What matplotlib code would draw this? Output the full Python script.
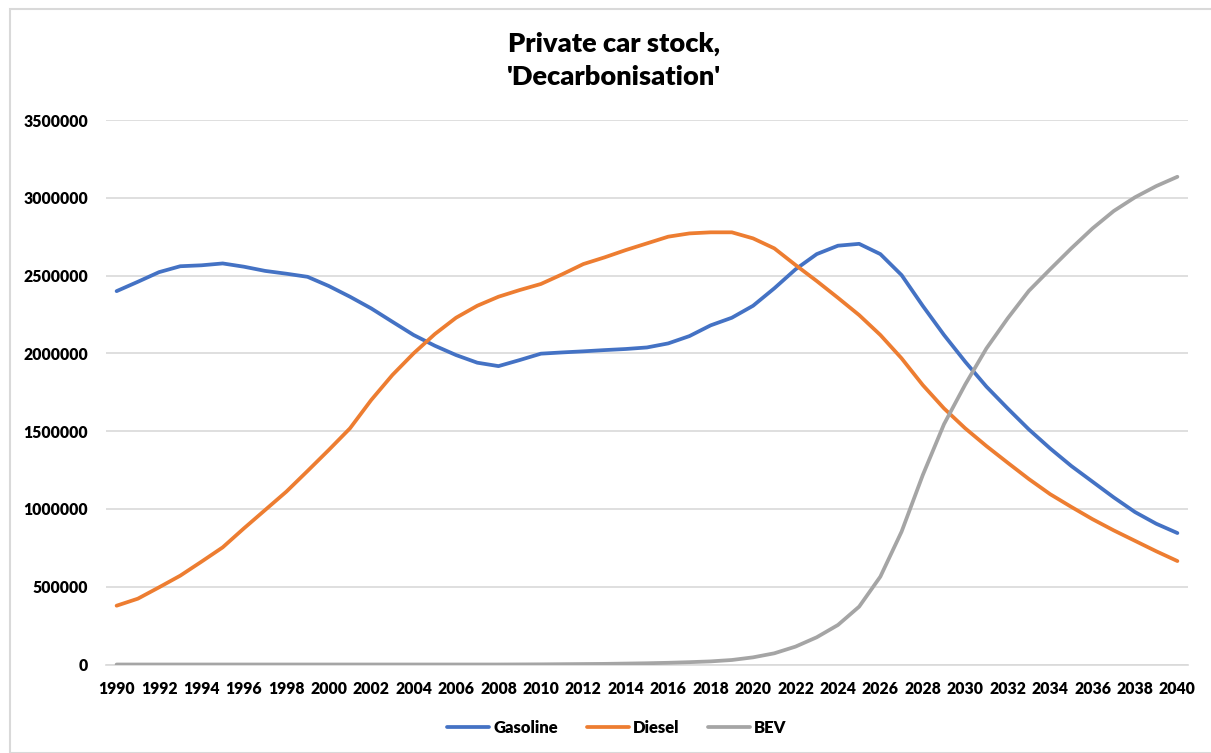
import matplotlib
matplotlib.use("Agg")
import matplotlib.pyplot as plt
from matplotlib.patches import Rectangle
import numpy as np

years = list(range(1990, 2041))

gasoline = [2400000, 2460000, 2522000, 2560000, 2566000, 2578000, 2557000, 2530000, 2512000, 2492000,
            2433000, 2364000, 2289000, 2203000, 2118000, 2049000, 1989000, 1940000, 1918000, 1957000,
            1998000, 2006000, 2013000, 2021000, 2028000, 2038000, 2064000, 2111000, 2180000, 2229000,
            2306000, 2418000, 2540000, 2638000, 2692000, 2704000, 2638000, 2503000, 2305000, 2118000,
            1946000, 1786000, 1646000, 1511000, 1389000, 1276000, 1175000, 1074000, 980000, 905000,
            845000]

diesel = [378000, 423000, 496000, 571000, 661000, 753000, 875000, 993000, 1111000, 1244000,
          1379000, 1518000, 1700000, 1861000, 2000000, 2124000, 2229000, 2306000, 2364000, 2407000,
          2446000, 2508000, 2574000, 2617000, 2664000, 2707000, 2750000, 2771000, 2778000, 2778000,
          2739000, 2675000, 2568000, 2465000, 2357000, 2246000, 2118000, 1968000, 1796000, 1646000,
          1518000, 1404000, 1297000, 1192000, 1095000, 1013000, 934000, 862000, 795000, 728000,
          665000]

bev = [0, 0, 0, 0, 0, 0, 0, 0, 0, 0,
       0, 0, 0, 0, 0, 0, 0, 0, 0, 500,
       1000, 2000, 3000, 4000, 6000, 8000, 11000, 15000, 20000, 29000,
       46000, 72000, 115000, 175000, 254000, 372000, 565000, 854000, 1218000, 1545000,
       1800000, 2032000, 2225000, 2402000, 2540000, 2675000, 2803000, 2915000, 3003000, 3075000,
       3135000]

series_names = ["Gasoline", "Diesel", "BEV"]
colors = ["#4472C4", "#ED7D31", "#A5A5A5"]
y_ticks = [0, 500000, 1000000, 1500000, 2000000, 2500000, 3000000, 3500000]
x_ticks = list(range(1990, 2041, 2))

plt.rcParams['font.family'] = ['Lato', 'DejaVu Sans']

W, H = 1211, 753
fig = plt.figure(figsize=(W / 100, H / 100), dpi=100)
fig.patch.set_facecolor("white")

# outer chart border
fig.add_artist(Rectangle((10 / W, 0), 1.2, 1 - 9 / H, transform=fig.transFigure,
                         fill=False, edgecolor="#D9D9D9", linewidth=1.5))

left, right = 106 / W, 1188 / W
bottom, top = 1 - 664.5 / H, 1 - 120 / H
ax = fig.add_axes([left, bottom, right - left, top - bottom])

for vals, name, c in zip([gasoline, diesel, bev], series_names, colors):
    ax.plot(years, vals, color=c, linewidth=2.7, label=name, solid_capstyle="round", zorder=3)

ax.set_xlim(1989.5, 2040.5)
ax.set_ylim(0, 3500000)
ax.set_yticks(y_ticks)
ax.set_yticklabels([str(v) for v in y_ticks])
ax.set_xticks(x_ticks)
ax.set_xticklabels([str(v) for v in x_ticks])
ax.tick_params(axis="both", length=0, labelsize=11.3)
ax.tick_params(axis="y", pad=13)
ax.tick_params(axis="x", pad=12)
for lbl in ax.get_xticklabels() + ax.get_yticklabels():
    lbl.set_fontweight("heavy")

ax.grid(axis="y", color="#D9D9D9", linewidth=1.2, zorder=0)
for s in ["top", "right", "left"]:
    ax.spines[s].set_visible(False)
ax.spines["bottom"].set_color("#D9D9D9")
ax.spines["bottom"].set_linewidth(1.2)

fig.text(0.507, 1 - 44 / H, "Private car stock,", ha="center", va="center",
         fontsize=19.5, fontweight="heavy")
fig.text(0.507, 1 - 77 / H, "'Decarbonisation'", ha="center", va="center",
         fontsize=19.5, fontweight="heavy")

leg = fig.legend(loc="center", bbox_to_anchor=(617 / W, 1 - 728 / H), ncol=3, frameon=False,
                 prop={"weight": "heavy", "size": 12}, handlelength=2.5, handletextpad=0.25,
                 columnspacing=1.75)

fig.savefig("out.png", dpi=100, facecolor="white")
